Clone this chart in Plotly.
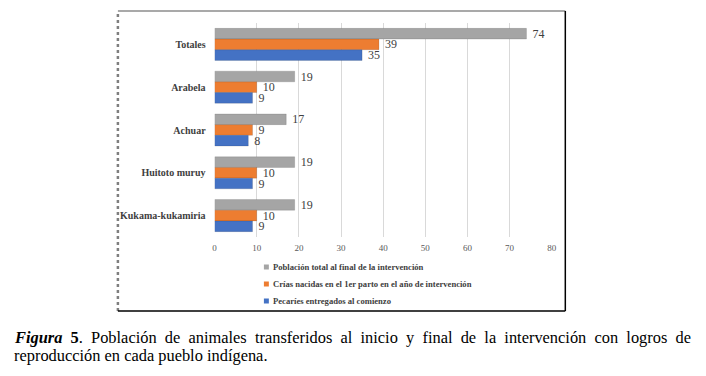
import plotly.graph_objects as go

categories = ["Totales", "Arabela", "Achuar", "Huitoto muruy", "Kukama-kukamiria"]
series_names = [
    "Población total al final de la intervención",
    "Crías nacidas en el 1er parto en el año de intervención",
    "Pecaríes entregados al comienzo",
]
poblacion_total = [74, 19, 17, 19, 19]
crias_nacidas = [39, 10, 9, 10, 10]
pecaries_entregados = [35, 9, 8, 9, 9]
x_ticks = [0, 10, 20, 30, 40, 50, 60, 70, 80]

colors = ["#A5A5A5", "#ED7D31", "#4472C4"]
OFF = 8  # default page body margin
W, H = 690, 360

def px(x):
    return (x - OFF) / W

def py(y):
    return 1 - (y - OFF) / H

fig = go.Figure()
for name, vals, col in zip(series_names, [poblacion_total, crias_nacidas, pecaries_entregados], colors):
    fig.add_trace(go.Bar(
        y=categories, x=vals, name=name, orientation="h",
        marker=dict(color=col, line=dict(color="rgba(0,0,0,0.12)", width=1)),
        text=[str(v) for v in vals], texttemplate="\u00A0%{text}",
        textposition="outside", constraintext="none",
        textfont=dict(family="Liberation Serif", size=12, color="#404040"),
        cliponaxis=False, showlegend=False,
    ))

fig.update_layout(
    width=W, height=H,
    margin=dict(l=0, r=0, t=0, b=0),
    paper_bgcolor="white", plot_bgcolor="white",
    barmode="group", bargap=0.25, bargroupgap=0,
    showlegend=False,
    xaxis=dict(
        domain=[px(214.7), px(555.3)], range=[0, 80],
        tickvals=x_ticks, showgrid=True, gridcolor="#D9D9D9", gridwidth=1,
        zeroline=False, showline=False, ticks="",
        tickfont=dict(family="Liberation Serif", size=9, color="#595959"),
        ticklabelstandoff=4,
    ),
    yaxis=dict(
        domain=[py(237), py(23)], autorange="reversed",
        tickvals=categories, ticktext=[f"<b>{c}</b>" for c in categories],
        showgrid=False, zeroline=False, showline=False, ticks="",
        tickfont=dict(family="Liberation Serif", size=10, color="#404040"),
        ticklabelstandoff=8,
    ),
    font=dict(family="Liberation Serif"),
)

# Legend (small square swatches with bold labels)
legend_y = [267, 284, 301]
for name, col, yy in zip(series_names, colors, legend_y):
    fig.add_shape(type="rect", xref="paper", yref="paper",
                  x0=px(264.5), x1=px(269.5), y0=py(yy + 2.5), y1=py(yy - 2.5),
                  fillcolor=col, line=dict(width=0))
    fig.add_annotation(xref="paper", yref="paper", x=px(271.5), y=py(yy),
                       xanchor="left", yanchor="middle", showarrow=False,
                       text=f"<b>{name}</b>",
                       font=dict(family="Liberation Serif", size=8.6, color="#404040"))

# Chart frame
x0, x1, y0, y1 = px(117), px(569), py(311), py(11)
fig.add_shape(type="line", xref="paper", yref="paper", x0=x0, x1=x1, y0=y1, y1=y1, line=dict(color="#8C8C8C", width=1.5))
fig.add_shape(type="line", xref="paper", yref="paper", x0=x0, x1=x0, y0=y0, y1=y1, line=dict(color="#7F7F7F", width=2.5, dash="dot"))
fig.add_shape(type="line", xref="paper", yref="paper", x0=x1, x1=x1, y0=y0, y1=y1, line=dict(color="#000000", width=1.5))
fig.add_shape(type="line", xref="paper", yref="paper", x0=x0, x1=x1, y0=y0, y1=y0, line=dict(color="#000000", width=1.5))

# Caption (first line spaced out to imitate justified text)
gap = "\u00A0\u00A0"
line1_words = "Población de animales transferidos al inicio y final de la intervención con logros de".split(" ")
fig.add_annotation(
    xref="paper", yref="paper", x=px(10), y=py(337), xanchor="left", yanchor="middle",
    text="<b><i>Figura</i>" + gap + "5</b>." + gap + gap.join(line1_words),
    showarrow=False, align="left",
    font=dict(family="Liberation Serif", size=16.4, color="#000000"),
)
fig.add_annotation(
    xref="paper", yref="paper", x=px(10), y=py(355), xanchor="left", yanchor="middle",
    text="reproducción en cada pueblo indígena.",
    showarrow=False, align="left",
    font=dict(family="Liberation Serif", size=16.4, color="#000000"),
)

fig.write_html("out.html")
